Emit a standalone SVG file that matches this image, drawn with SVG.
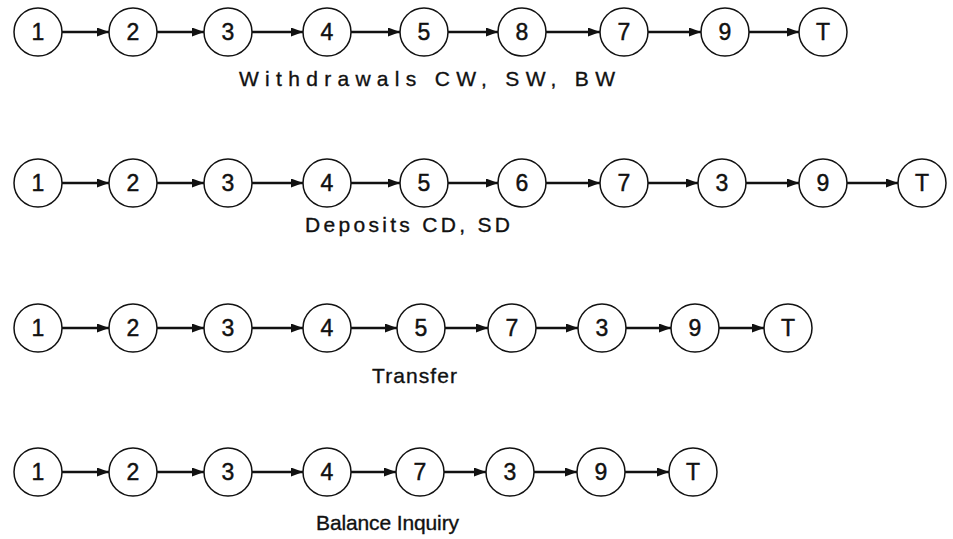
<svg xmlns="http://www.w3.org/2000/svg" width="953" height="539" viewBox="0 0 953 539">
<style>
.n circle{fill:#fff;stroke:#111;stroke-width:1.5}
.n text{font-family:"Liberation Sans",Arial,sans-serif;font-size:23px;fill:#111;stroke:#111;stroke-width:0.45;text-anchor:middle}
.c line{stroke:#111;stroke-width:2.6}
.lbl{font-family:"Liberation Sans",Arial,sans-serif;font-size:21px;fill:#111;stroke:#111;stroke-width:0.35}
</style>
<defs>
<marker id="ah" viewBox="0 0 12 9" refX="12" refY="4.5" markerWidth="12" markerHeight="9" markerUnits="userSpaceOnUse" orient="auto">
<path d="M0,0 L12,4.5 L0,9 z" fill="#111"/>
</marker>
</defs>
<rect width="953" height="539" fill="#fff"/>
<g class="c" id="connectors">
<line x1="62" y1="32" x2="109" y2="32" marker-end="url(#ah)"/>
<line x1="157" y1="32" x2="204" y2="32" marker-end="url(#ah)"/>
<line x1="252" y1="32" x2="303" y2="32" marker-end="url(#ah)"/>
<line x1="351" y1="32" x2="400" y2="32" marker-end="url(#ah)"/>
<line x1="448" y1="32" x2="498" y2="32" marker-end="url(#ah)"/>
<line x1="546" y1="32" x2="600" y2="32" marker-end="url(#ah)"/>
<line x1="648" y1="32" x2="701" y2="32" marker-end="url(#ah)"/>
<line x1="749" y1="32" x2="799" y2="32" marker-end="url(#ah)"/>

<line x1="62" y1="183" x2="109" y2="183" marker-end="url(#ah)"/>
<line x1="157" y1="183" x2="204" y2="183" marker-end="url(#ah)"/>
<line x1="252" y1="183" x2="303" y2="183" marker-end="url(#ah)"/>
<line x1="351" y1="183" x2="400" y2="183" marker-end="url(#ah)"/>
<line x1="448" y1="183" x2="498" y2="183" marker-end="url(#ah)"/>
<line x1="546" y1="183" x2="600" y2="183" marker-end="url(#ah)"/>
<line x1="648" y1="183" x2="698" y2="183" marker-end="url(#ah)"/>
<line x1="746" y1="183" x2="799" y2="183" marker-end="url(#ah)"/>
<line x1="847" y1="183" x2="898" y2="183" marker-end="url(#ah)"/>

<line x1="62" y1="328" x2="109" y2="328" marker-end="url(#ah)"/>
<line x1="157" y1="328" x2="204" y2="328" marker-end="url(#ah)"/>
<line x1="252" y1="328" x2="303" y2="328" marker-end="url(#ah)"/>
<line x1="351" y1="328" x2="397" y2="328" marker-end="url(#ah)"/>
<line x1="445" y1="328" x2="488" y2="328" marker-end="url(#ah)"/>
<line x1="536" y1="328" x2="578" y2="328" marker-end="url(#ah)"/>
<line x1="626" y1="328" x2="671" y2="328" marker-end="url(#ah)"/>
<line x1="719" y1="328" x2="764" y2="328" marker-end="url(#ah)"/>

<line x1="62" y1="472" x2="109" y2="472" marker-end="url(#ah)"/>
<line x1="157" y1="472" x2="204" y2="472" marker-end="url(#ah)"/>
<line x1="252" y1="472" x2="303" y2="472" marker-end="url(#ah)"/>
<line x1="351" y1="472" x2="396" y2="472" marker-end="url(#ah)"/>
<line x1="444" y1="472" x2="486" y2="472" marker-end="url(#ah)"/>
<line x1="534" y1="472" x2="577" y2="472" marker-end="url(#ah)"/>
<line x1="625" y1="472" x2="669" y2="472" marker-end="url(#ah)"/>
</g>

<g class="n" id="r1n1"><circle cx="38" cy="32" r="24"/><text x="38" y="40">1</text></g>
<g class="n" id="r1n2"><circle cx="133" cy="32" r="24"/><text x="133" y="40">2</text></g>
<g class="n" id="r1n3"><circle cx="228" cy="32" r="24"/><text x="228" y="40">3</text></g>
<g class="n" id="r1n4"><circle cx="327" cy="32" r="24"/><text x="327" y="40">4</text></g>
<g class="n" id="r1n5"><circle cx="424" cy="32" r="24"/><text x="424" y="40">5</text></g>
<g class="n" id="r1n8"><circle cx="522" cy="32" r="24"/><text x="522" y="40">8</text></g>
<g class="n" id="r1n7"><circle cx="624" cy="32" r="24"/><text x="624" y="40">7</text></g>
<g class="n" id="r1n9"><circle cx="725" cy="32" r="24"/><text x="725" y="40">9</text></g>
<g class="n" id="r1nT"><circle cx="823" cy="32" r="24"/><text x="823" y="40">T</text></g>

<g class="n" id="r2n1"><circle cx="38" cy="183" r="24"/><text x="38" y="191">1</text></g>
<g class="n" id="r2n2"><circle cx="133" cy="183" r="24"/><text x="133" y="191">2</text></g>
<g class="n" id="r2n3"><circle cx="228" cy="183" r="24"/><text x="228" y="191">3</text></g>
<g class="n" id="r2n4"><circle cx="327" cy="183" r="24"/><text x="327" y="191">4</text></g>
<g class="n" id="r2n5"><circle cx="424" cy="183" r="24"/><text x="424" y="191">5</text></g>
<g class="n" id="r2n6"><circle cx="522" cy="183" r="24"/><text x="522" y="191">6</text></g>
<g class="n" id="r2n7"><circle cx="624" cy="183" r="24"/><text x="624" y="191">7</text></g>
<g class="n" id="r2n3b"><circle cx="722" cy="183" r="24"/><text x="722" y="191">3</text></g>
<g class="n" id="r2n9"><circle cx="823" cy="183" r="24"/><text x="823" y="191">9</text></g>
<g class="n" id="r2nT"><circle cx="922" cy="183" r="24"/><text x="922" y="191">T</text></g>

<g class="n" id="r3n1"><circle cx="38" cy="328" r="24"/><text x="38" y="336">1</text></g>
<g class="n" id="r3n2"><circle cx="133" cy="328" r="24"/><text x="133" y="336">2</text></g>
<g class="n" id="r3n3"><circle cx="228" cy="328" r="24"/><text x="228" y="336">3</text></g>
<g class="n" id="r3n4"><circle cx="327" cy="328" r="24"/><text x="327" y="336">4</text></g>
<g class="n" id="r3n5"><circle cx="421" cy="328" r="24"/><text x="421" y="336">5</text></g>
<g class="n" id="r3n7"><circle cx="512" cy="328" r="24"/><text x="512" y="336">7</text></g>
<g class="n" id="r3n3b"><circle cx="602" cy="328" r="24"/><text x="602" y="336">3</text></g>
<g class="n" id="r3n9"><circle cx="695" cy="328" r="24"/><text x="695" y="336">9</text></g>
<g class="n" id="r3nT"><circle cx="788" cy="328" r="24"/><text x="788" y="336">T</text></g>

<g class="n" id="r4n1"><circle cx="38" cy="472" r="24"/><text x="38" y="480">1</text></g>
<g class="n" id="r4n2"><circle cx="133" cy="472" r="24"/><text x="133" y="480">2</text></g>
<g class="n" id="r4n3"><circle cx="228" cy="472" r="24"/><text x="228" y="480">3</text></g>
<g class="n" id="r4n4"><circle cx="327" cy="472" r="24"/><text x="327" y="480">4</text></g>
<g class="n" id="r4n7"><circle cx="420" cy="472" r="24"/><text x="420" y="480">7</text></g>
<g class="n" id="r4n3b"><circle cx="510" cy="472" r="24"/><text x="510" y="480">3</text></g>
<g class="n" id="r4n9"><circle cx="601" cy="472" r="24"/><text x="601" y="480">9</text></g>
<g class="n" id="r4nT"><circle cx="693" cy="472" r="24"/><text x="693" y="480">T</text></g>

<g id="labels">
<text class="lbl" x="239" y="86" textLength="376" lengthAdjust="spacing">Withdrawals CW, SW, BW</text>
<text class="lbl" x="305" y="232" textLength="205" lengthAdjust="spacing">Deposits CD, SD</text>
<text class="lbl" x="372" y="383" textLength="85" lengthAdjust="spacing">Transfer</text>
<text class="lbl" x="316" y="530" textLength="143" lengthAdjust="spacing">Balance Inquiry</text>
</g>
</svg>
